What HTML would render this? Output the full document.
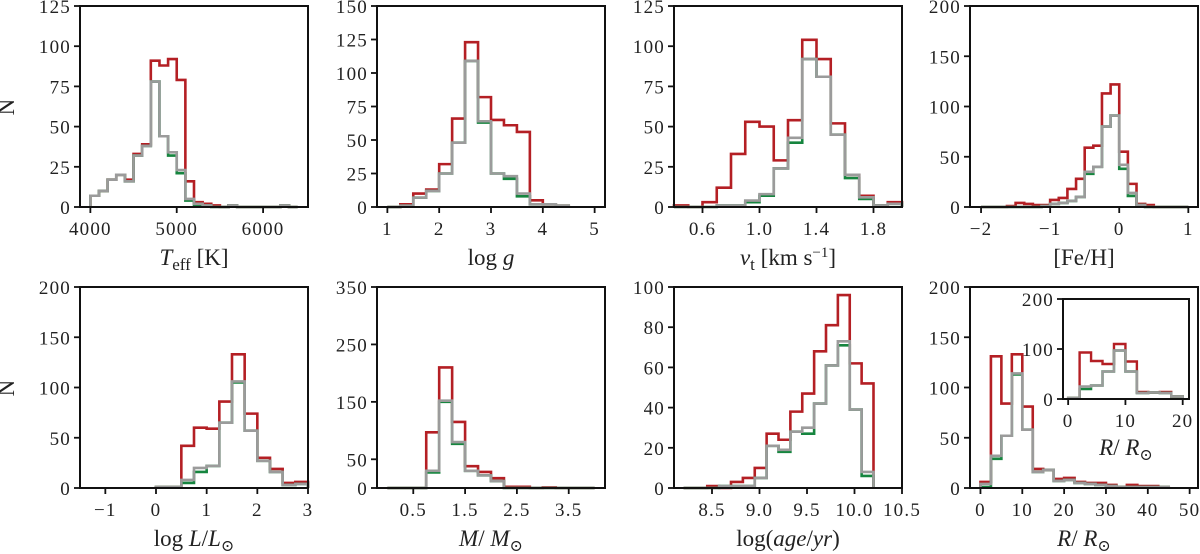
<!DOCTYPE html>
<html><head><meta charset="utf-8">
<style>
html,body{margin:0;padding:0;background:#fff;}
svg{display:block;font-family:"Liberation Serif","DejaVu Serif",serif;}
.tk{font-size:19px;fill:#222;letter-spacing:1.2px;}
.lab{font-size:23px;fill:#222;}
</style></head>
<body>
<svg id="fig" width="1200" height="554" viewBox="0 0 1200 554" xmlns="http://www.w3.org/2000/svg"></svg>
<script>
// ---- data (bin start, bin width, counts) ----
const teffStart = 4000, teffWidth = 100;
const teffRed   = [7,10,17,20,17,33,39,91,88,92,79,16,3,2,1,0,1,0,0,0,0,0,1,0];
const teffGreen = [7,10,17,20,16,32,38,78,44,32,21,4,1,1,0,0,1,0,0,0,0,0,1,0];
const teffGray  = [7,10,17,20,16,32,38,78,44,34,23,5,2,1,0,0,1,0,0,0,0,0,1,0];

const loggStart = 1.0, loggWidth = 0.25;
const loggRed   = [0,2,10,13,32,66,123,82,65,61,56,5,2,1];
const loggGreen = [0,1,7,12,25,48,109,63,25,21,8,2,2,1];
const loggGray  = [0,1,7,12,25,48,109,64,25,23,10,2,2,1];

const vtStart = 0.4, vtWidth = 0.1;
const vtRed   = [1,0,3,12,33,53,50,29,54,104,92,52,20,7,1,3];
const vtGreen = [0,0,0,1,1,3,7,24,40,92,81,45,18,5,1,2];
const vtGray  = [0,0,0,1,1,4,8,24,43,92,81,45,20,6,1,2];

const fehStart = -2.0, fehWidth = 0.125;
const fehRed   = [0,0,0,1,4,3,2,2,7,9,18,28,59,61,113,122,55,23,3,2,0,0,0,0];
const fehGreen = [0,0,0,0,0,0,0,1,3,4,6,10,33,40,80,91,38,11,2,0,0,0,0,0];
const fehGray  = [0,0,0,0,0,0,0,1,3,4,6,10,35,40,80,91,42,14,2,0,0,0,0,0];

const lumStart = 0.0, lumWidth = 0.25;
const lumRed   = [1,1,42,60,59,86,133,74,30,19,5,6];
const lumGreen = [1,1,5,16,22,65,105,57,27,16,3,4];
const lumGray  = [1,1,8,20,22,65,106,57,27,16,3,4];

const massStart = 0.0, massWidth = 0.25;
const massRed   = [0,0,0,97,210,115,38,28,17,2,2,0,1,0,0,0];
const massGreen = [0,0,0,27,150,77,30,22,12,0,0,0,0,0,0,0];
const massGray  = [0,0,0,30,152,80,30,22,12,0,0,0,0,0,0,0];

const ageStart = 8.2, ageWidth = 0.125;
const ageRed   = [0,0,1,0,3,5,10,27,24,38,47,68,81,96,62,52];
const ageGreen = [0,0,0,1,1,1,5,21,18,28,27,42,61,71,39,6];
const ageGray  = [0,0,0,1,1,1,5,21,19,28,30,42,61,73,39,8];

const radStart = 0, radWidth = 2.5;
const radRed   = [6,131,84,133,81,19,18,9,10,6,5,5,3,1,3,2,2,1];
const radGreen = [1,29,52,113,58,16,18,7,8,5,4,3,2,1,1,1,1,1];
const radGray  = [4,32,52,114,58,16,18,7,8,5,4,3,2,1,1,1,1,1];

const insStart = 0, insWidth = 2;
const insRed   = [2,93,76,70,110,75,14,13,14,5];
const insGreen = [2,20,27,55,97,55,12,13,12,5];
const insGray  = [2,25,27,55,97,55,12,13,12,5];

const teffTicks = [4000,5000,6000], loggTicks=[1,2,3,4,5], vtTicks=[0.6,1.0,1.4,1.8], fehTicks=[-2,-1,0,1];
const lumTicks=[-1,0,1,2,3], massTicks=[0.5,1.5,2.5,3.5], ageTicks=[8.5,9.0,9.5,10.0,10.5], radTicks=[0,10,20,30,40,50], insTicks=[0,10,20];
const yT125=[0,25,50,75,100,125], yT150=[0,25,50,75,100,125,150], yT200=[0,50,100,150,200], yT350=[0,50,150,250,350], yT100=[0,20,40,60,80,100], yIns=[0,100,200];

const RED="#b41f24", GREEN="#16853f", GRAY="#9b9b9b";
const NS="http://www.w3.org/2000/svg";
const svg=document.getElementById('fig');
function mk(tag,attrs,parent){const e=document.createElementNS(NS,tag);for(const k in attrs)e.setAttribute(k,attrs[k]);(parent||svg).appendChild(e);return e;}

function panel(o){
  const g=mk('g',{});
  
  
  const sx=v=>o.x+(v-o.xmin)/(o.xmax-o.xmin)*o.w;
  const sy=v=>o.y+o.h-(v/o.ymax)*o.h;
  const series=[[o.red,RED,'red'],[o.green,GREEN,'green'],[o.gray,GRAY,'gray']];
  for(const [arr,col,nm] of series){
    let d='M'+sx(o.start)+','+sy(0);
    arr.forEach((v,i)=>{const x0=sx(o.start+i*o.bw),x1=sx(o.start+(i+1)*o.bw);d+=' L'+x0+','+sy(v)+' L'+x1+','+sy(v);});
    d+=' L'+sx(o.start+arr.length*o.bw)+','+sy(0);
    const p=mk('path',{d:d,fill:'none',stroke:col,'stroke-width':o.sw||2.6,'stroke-linejoin':'miter'},g);
    
    
  }
  o.xt.forEach(t=>{
    const x=sx(t);
    mk('line',{x1:x,x2:x,y1:o.y+o.h,y2:o.y+o.h+6,stroke:'#111','stroke-width':1.8},g);
    const tx=mk('text',{x:x,y:o.y+o.h+(o.tdy||28),'text-anchor':'middle',class:'tk'},g);
    tx.textContent=String(t).replace('-','\u2212');
    if(o.fix1) tx.textContent=t.toFixed(1);
    
    
  });
  o.yt.forEach(t=>{
    const y=sy(t);
    mk('line',{x1:o.x-6,x2:o.x,y1:y,y2:y,stroke:'#111','stroke-width':1.8},g);
    const tx=mk('text',{x:o.x-9,y:y+7,'text-anchor':'end',class:'tk'},g);
    tx.textContent=t;
    
    
  });
  const fr=mk('rect',{x:o.x,y:o.y,width:o.w,height:o.h,fill:'none',stroke:'#111','stroke-width':2},g);
  
  
  if(o.label){
    const l=mk('text',{x:o.x+o.w/2,y:o.y+o.h+(o.ldy||58),'text-anchor':'middle',class:'lab'},g);
    l.innerHTML=o.label;
    
    
  }
}
const W=228,H1=201;
const sun='<tspan font-size="16" dy="5">\u2299</tspan>';
panel({name:'teff-panel',x:80,y:6,w:W,h:H1,xmin:3880,xmax:6520,ymax:125,start:teffStart,bw:teffWidth,red:teffRed,green:teffGreen,gray:teffGray,xt:teffTicks,yt:yT125,label:'<tspan font-style="italic">T</tspan><tspan font-size="17" dy="5">eff</tspan><tspan dy="-5">  [K]</tspan>'});
panel({name:'logg-panel',x:377,y:6,w:W,h:H1,xmin:0.8,xmax:5.2,ymax:150,start:loggStart,bw:loggWidth,red:loggRed,green:loggGreen,gray:loggGray,xt:loggTicks,yt:yT150,label:'log <tspan font-style="italic">g</tspan>'});
panel({name:'vt-panel',x:674,y:6,w:W,h:H1,xmin:0.4,xmax:2.0,ymax:125,start:vtStart,bw:vtWidth,red:vtRed,green:vtGreen,gray:vtGray,xt:vtTicks,yt:yT125,fix1:true,label:'<tspan font-style="italic">v</tspan><tspan font-size="17" dy="5">t</tspan><tspan dy="-5">  [km s</tspan><tspan font-size="15" dy="-8">\u22121</tspan><tspan dy="8">]</tspan>'});
panel({name:'feh-panel',x:970,y:6,w:W,h:H1,xmin:-2.16,xmax:1.14,ymax:200,start:fehStart,bw:fehWidth,red:fehRed,green:fehGreen,gray:fehGray,xt:fehTicks,yt:yT200,label:'[Fe/H]'});
panel({name:'luminosity-panel',x:80,y:287,w:W,h:H1,xmin:-1.5,xmax:3,ymax:200,start:lumStart,bw:lumWidth,red:lumRed,green:lumGreen,gray:lumGray,xt:lumTicks,yt:yT200,ldy:58,label:'log <tspan font-style="italic">L</tspan>/<tspan font-style="italic">L</tspan>'+sun});
panel({name:'mass-panel',x:377,y:287,w:W,h:H1,xmin:-0.2,xmax:4.2,ymax:350,start:massStart,bw:massWidth,red:massRed,green:massGreen,gray:massGray,xt:massTicks,yt:yT350,ldy:58,label:'<tspan font-style="italic">M</tspan>/ <tspan font-style="italic">M</tspan>'+sun});
panel({name:'age-panel',x:674,y:287,w:W,h:H1,xmin:8.1,xmax:10.5,ymax:100,start:ageStart,bw:ageWidth,red:ageRed,green:ageGreen,gray:ageGray,xt:ageTicks,yt:yT100,fix1:true,ldy:58,label:'log(<tspan font-style="italic">age</tspan>/<tspan font-style="italic">yr</tspan>)'});
panel({name:'radius-panel',x:970,y:287,w:W,h:H1,xmin:-2.5,xmax:52,ymax:200,start:radStart,bw:radWidth,red:radRed,green:radGreen,gray:radGray,xt:radTicks,yt:yT200,ldy:58,label:'<tspan font-style="italic">R</tspan>/ <tspan font-style="italic">R</tspan>'+sun});
// inset background
const bg=mk('rect',{x:1063,y:299,width:126,height:100,fill:'#fff'});


panel({name:'radius-inset-panel',x:1063,y:299,w:126,h:100,xmin:-0.9,xmax:21.1,ymax:200,start:insStart,bw:insWidth,red:insRed,green:insGreen,gray:insGray,xt:insTicks,yt:yIns,sw:2.4,label:'<tspan font-style="italic">R</tspan>/ <tspan font-style="italic">R</tspan>'+sun,ldy:56});
// y axis titles
[[107,'y-axis-title-top'],[388,'y-axis-title-bottom']].forEach(([y,n])=>{
  const t=mk('text',{x:14,y:y,'text-anchor':'middle',class:'lab',transform:'rotate(-90 14 '+y+')'});
  t.textContent='N';
  
  
});
</script>
</body></html>
